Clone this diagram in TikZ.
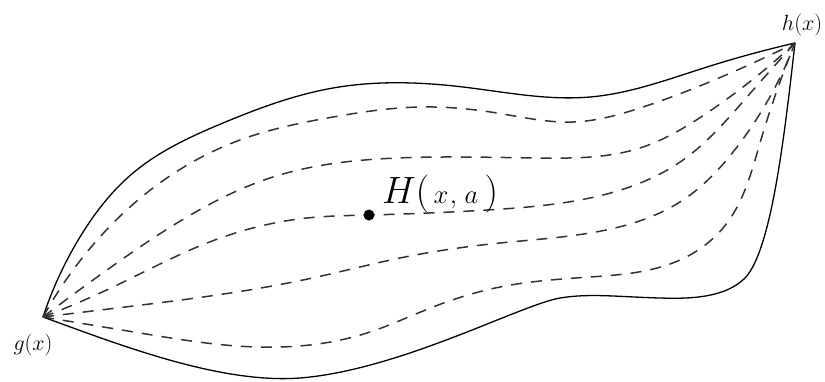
\RequirePackage{fix-cm}
\documentclass[tikz,border=0pt]{standalone}
\usetikzlibrary{hobby}
\begin{document}
\begin{tikzpicture}[x=1pt,y=-1pt,
  boundary/.style={line width=1.3pt, black},
  level/.style={line width=1.5pt, black!80, dash pattern=on 11pt off 9pt, use Hobby shortcut},
  lbl/.style={inner sep=0pt, font=\fontsize{22}{26}\selectfont}]
\useasboundingbox (0,0) rectangle (825,381);
\coordinate (g) at (43,317);
\coordinate (h) at (795,43);
% boundaries
\draw[boundary, use Hobby shortcut] (g) .. (80,237) .. (133,173) .. (223,123) .. (333,88) .. (463,87) .. (590,97) .. (707,67) .. (h);
\draw[boundary] (h) .. controls (785,130) and (772,250) .. (745,278)
  .. controls (725,298) and (690,299) .. (660,298)
  .. controls (620,297) and (590,293) .. (560,298)
  .. controls (520,305) and (400,370) .. (300,378)
  .. controls (220,384) and (120,345) .. (g);
% dashed curves
\draw[level] (g) .. (83,257) .. (157,185) .. (240,140) .. (333,117) .. (420,107) .. (497,113) .. (573,122) .. (640,108) .. (707,83) .. (h);
\draw[level] (g) .. (107,270) .. (187,217) .. (273,177) .. (397,158) .. (540,158) .. (640,148) .. (707,113) .. (h);
\draw[level] (g) .. (113,287) .. (207,243) .. (307,218) .. (369,215) .. (487,210) .. (590,198) .. (683,160) .. (747,97) .. (h);
\draw[level] (g) .. (117,308) .. (217,295) .. (317,277) .. (400,258) .. (500,243) .. (590,233) .. (683,200) .. (737,147) .. (h);
\draw[level] (g) .. (140,333) .. (257,347) .. (367,333) .. (433,307) .. (500,287) .. (590,277) .. (680,260) .. (727,223) .. (760,143) .. (h);
% point and labels
\fill (369,215) circle (5.5pt);
\node[anchor=base west, inner sep=0pt, font=\fontsize{38}{42}\selectfont] (Hl) at (382,203) {$H(\mkern2mu{\scriptstyle x\mkern1mu,\mkern5mu a}\mkern3mu)$};
\node[lbl] (gl) at (33,345) {$g(x)$};
\node[lbl] (hl) at (802,25) {$h(x)$};
\end{tikzpicture}
\end{document}
